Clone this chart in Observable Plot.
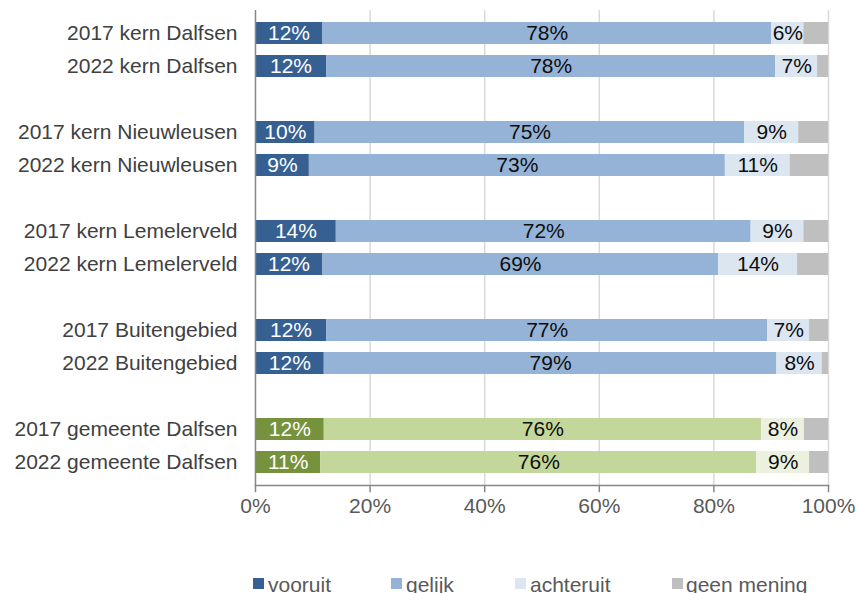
<!DOCTYPE html>
<html>
<head>
<meta charset="utf-8">
<script src="https://cdn.jsdelivr.net/npm/d3@7"></script>
<script src="https://cdn.jsdelivr.net/npm/@observablehq/plot@0.6"></script>
<style>
  body { margin: 0; background: #fff; font-family: "Liberation Sans", Arial, sans-serif; }
  #wrap { position: relative; width: 857px; height: 593px; overflow: hidden; }
  #legend { position: absolute; left: 0; top: 540px; }
</style>
</head>
<body>
<div id="wrap"><div id="chart"></div><svg id="legend" width="857" height="53"></svg></div>
<script>
const categories = [
  "2017 kern Dalfsen", "2022 kern Dalfsen",
  "2017 kern Nieuwleusen", "2022 kern Nieuwleusen",
  "2017 kern Lemelerveld", "2022 kern Lemelerveld",
  "2017 Buitengebied", "2022 Buitengebied",
  "2017 gemeente Dalfsen", "2022 gemeente Dalfsen"
];
const seriesNames = ["vooruit", "gelijk", "achteruit", "geen mening"];
const vooruit   = [11.7, 12.4, 10.4, 9.4, 14.1, 11.7, 12.4, 12.0, 12.0, 11.4];
const gelijk    = [78.4, 78.4, 75.0, 72.6, 72.4, 69.1, 77.0, 79.0, 76.3, 76.1];
const achteruit = [5.6, 7.3, 9.4, 11.3, 9.2, 13.8, 7.3, 7.9, 7.5, 9.2];
const geen      = [4.3, 1.9, 5.2, 6.7, 4.3, 5.4, 3.3, 1.1, 4.2, 3.3];
const xTicks = [0, 20, 40, 60, 80, 100];

const blue = {"vooruit": "#366092", "gelijk": "#95b3d7", "achteruit": "#dce6f1", "geen mening": "#bfbfbf"};
const green = {"vooruit": "#76923c", "gelijk": "#c4d79b", "achteruit": "#ebf1de", "geen mening": "#bfbfbf"};

const valuesBySeries = [vooruit, gelijk, achteruit, geen];
const data = [];
categories.forEach((c, i) => {
  seriesNames.forEach((s, j) => {
    data.push({cat: c, series: s, value: valuesBySeries[j][i], gemeente: c.includes("gemeente")});
  });
});

// y domain with empty gap slots between the groups
const gaps = ["gap1", "gap2", "gap3", "gap4"];
const yDomain = [];
categories.forEach((c, i) => {
  yDomain.push(c);
  if (i % 2 === 1 && i < categories.length - 1) yDomain.push(gaps[(i - 1) / 2]);
});

const fontFam = '"Liberation Sans", Arial, sans-serif';
// band range spans the full frame; visible axis lines are inset slightly
const insT = 5.5, insB = 5.2;

const plot = Plot.plot({
  width: 857,
  height: 540,
  marginLeft: 255,
  marginRight: 29,
  marginTop: 4.5,
  marginBottom: 49.8,
  style: {fontFamily: fontFam, fontSize: "21px", background: "#fff"},
  x: {domain: [0, 100], axis: null, label: null},
  y: {domain: yDomain, padding: 0.32, axis: null, label: null},
  color: {type: "identity"},
  marks: [
    Plot.ruleX(xTicks.filter(d => d > 0), {stroke: "#d9d9d9", strokeWidth: 1.5, insetTop: insT, insetBottom: insB}),
    Plot.barX(data, Plot.stackX({
      y: "cat", x: "value",
      fill: d => (d.gemeente ? green : blue)[d.series]
    })),
    Plot.textX(data, Plot.stackX({
      y: "cat", x: "value",
      text: d => d.series === "geen mening" ? "" : Math.round(d.value) + "%",
      fill: d => d.series === "vooruit" ? "#ffffff" : "#0d0d0d",
      fontSize: 21
    })),
    Plot.ruleX([0], {stroke: "#868686", strokeWidth: 1.5, insetTop: insT, insetBottom: insB}),
    Plot.frame({anchor: "bottom", stroke: "#868686", strokeWidth: 1.5, insetBottom: insB}),
    Plot.tickX(xTicks, {x: d => d, stroke: "#868686", strokeWidth: 1.5, insetTop: 485 - 4.5, insetBottom: -2}),
    Plot.text(xTicks, {x: d => d, text: d => d + "%", frameAnchor: "bottom", dy: 22, fill: "#595959", fontSize: 21}),
    Plot.axisY(categories, {
      anchor: "left", tickSize: 0, tickPadding: 18,
      fill: "#404040", fontSize: 21, label: null
    })
  ]
});
document.getElementById("chart").appendChild(plot);

// legend below the chart
const legendItems = [
  {name: "vooruit", sx: 253, tx: 268},
  {name: "gelijk", sx: 391, tx: 406},
  {name: "achteruit", sx: 515, tx: 530},
  {name: "geen mening", sx: 672, tx: 686}
];
const lg = d3.select("#legend");
legendItems.forEach(it => {
  lg.append("rect").attr("x", it.sx).attr("y", 38).attr("width", 11).attr("height", 11)
    .attr("fill", blue[it.name]);
  lg.append("text").attr("x", it.tx).attr("y", 52).text(it.name)
    .attr("fill", "#595959").style("font-family", fontFam).style("font-size", "21px");
});
</script>
</body>
</html>
